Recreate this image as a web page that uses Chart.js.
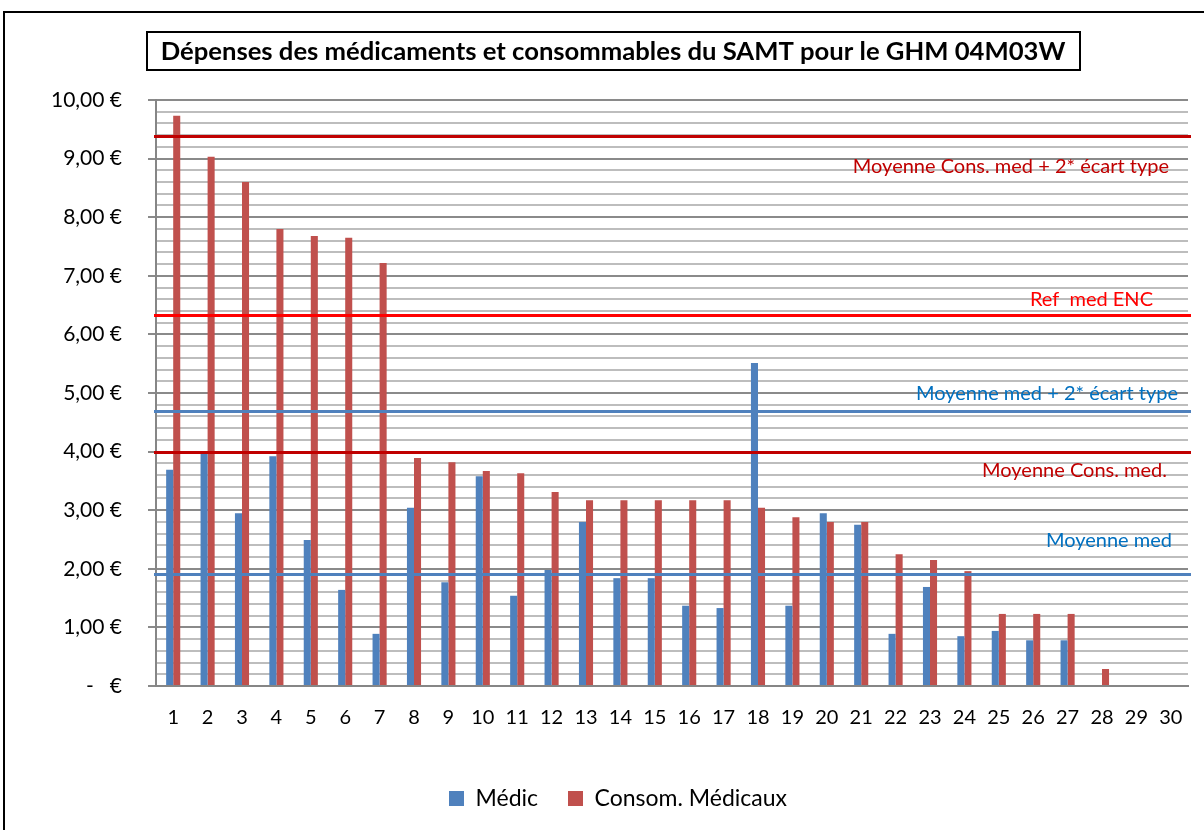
<!DOCTYPE html>
<html>
<head>
<meta charset="utf-8">
<script src="https://cdn.jsdelivr.net/npm/chart.js@4/dist/chart.umd.min.js"></script>
<style>
  body { margin: 0; background: #fff; }
  canvas { display: block; }
</style>
</head>
<body>
<canvas id="myChart" width="1204" height="830"></canvas>
<script>
// data
const categories = ['1','2','3','4','5','6','7','8','9','10','11','12','13','14','15','16','17','18','19','20','21','22','23','24','25','26','27','28','29','30'];
const medic = [3.69,3.97,2.95,3.92,2.49,1.64,0.89,3.04,1.77,3.58,1.54,1.98,2.80,1.84,1.84,1.37,1.33,5.51,1.37,2.95,2.75,0.89,1.69,0.85,0.94,0.78,0.78,0,0,0];
const consom = [9.73,9.03,8.60,7.80,7.68,7.65,7.22,3.89,3.82,3.67,3.63,3.31,3.17,3.17,3.17,3.17,3.17,3.04,2.88,2.80,2.80,2.25,2.15,1.96,1.23,1.23,1.23,0.29,0,0];
const seriesNames = ['Médic', 'Consom. Médicaux'];
const refNames = ['Moyenne Cons. med + 2* écart type', 'Ref  med ENC', 'Moyenne med + 2* écart type', 'Moyenne Cons. med.', 'Moyenne med'];
const refValues = [9.38, 6.33, 4.70, 3.99, 1.91];
const yTicks = [0,1,2,3,4,5,6,7,8,9,10];
const title = 'Dépenses des médicaments et consommables du SAMT pour le GHM 04M03W';

// styles
const refColors = ['#C00000', '#FF0000', '#4F81BD', '#C00000', '#4F81BD'];
const refTextColors = ['#C00000', '#FF0000', '#0070C0', '#C00000', '#0070C0'];
const labelShift = [30, -16, -17, 18, -34];   // px from the line
const labelRight = [1169, 1153, 1178, 1167, 1172];
const FONT = 'Lato';

function isMajor(v) { return Math.abs(v - Math.round(v)) < 1e-6 }

const decor = {
  id: 'decor',
  beforeDraw(chart) {
    const ctx = chart.ctx;
    ctx.save();
    ctx.fillStyle = '#fff';
    ctx.fillRect(0, 0, chart.width, chart.height);
    ctx.strokeStyle = '#000';
    ctx.lineWidth = 2;
    ctx.strokeRect(4, 12, 1400, 1000);
    ctx.restore();
  },
  afterDatasetsDraw(chart) {
    // horizontal reference lines, placed by the y scale
    const ctx = chart.ctx, y = chart.scales.y, a = chart.chartArea;
    ctx.save();
    ctx.lineWidth = 3;
    refValues.forEach((v, i) => {
      const py = Math.round(y.getPixelForValue(v)) + 0.5;
      ctx.strokeStyle = refColors[i];
      ctx.beginPath();
      ctx.moveTo(a.left - 2, py);
      ctx.lineTo(a.right + 3, py);
      ctx.stroke();
    });
    ctx.restore();
  },
  afterDraw(chart) {
    const ctx = chart.ctx;
    ctx.save();
    // title in a box
    ctx.font = 'bold 22px ' + FONT;
    let w = ctx.measureText(title).width;
    let size = 22 * 905 / w;
    ctx.font = 'bold ' + size.toFixed(2) + 'px ' + FONT;
    ctx.fillStyle = '#000';
    ctx.textAlign = 'center';
    ctx.textBaseline = 'middle';
    ctx.fillText(title, 613, 52);
    ctx.strokeStyle = '#000';
    ctx.lineWidth = 2;
    ctx.strokeRect(147, 32, 933, 38);
    // labels of the reference lines
    const y = chart.scales.y;
    ctx.font = '20px ' + FONT;
    ctx.textAlign = 'right';
    refNames.forEach((name, i) => {
      ctx.fillStyle = refTextColors[i];
      ctx.fillText(name, labelRight[i], y.getPixelForValue(refValues[i]) + labelShift[i]);
    });
    ctx.restore();
  }
};

new Chart(document.getElementById('myChart').getContext('2d'), {
  type: 'bar',
  data: {
    labels: categories,
    datasets: [
      { label: seriesNames[0], data: medic, backgroundColor: '#4F81BD' },
      { label: seriesNames[1], data: consom, backgroundColor: '#C0504D' }
    ]
  },
  options: {
    responsive: false,
    animation: false,
    categoryPercentage: 0.41,
    barPercentage: 1,
    layout: { padding: { top: 100, bottom: 10, left: 48, right: 16 } },
    plugins: {
      legend: {
        position: 'bottom',
        labels: {
          boxWidth: 15, boxHeight: 15,
          padding: 30,
          color: '#000',
          font: { family: FONT, size: 23 }
        }
      },
      tooltip: { enabled: false },
      title: { display: false }
    },
    scales: {
      x: {
        grid: { display: false, drawTicks: false },
        border: { display: true, color: '#868686', width: 2 },
        ticks: { padding: 20, color: '#000', font: { family: FONT, size: 20 } },
        afterFit: s => { s.height = 71 }
      },
      y: {
        min: 0, max: 10,
        afterFit: s => { s.width = 108 },
        border: { color: '#868686', width: 2 },
        grid: {
          color: c => isMajor(c.tick.value) ? '#8a8a8a' : '#bdbdbd',
          lineWidth: 2,
          tickLength: 8,
          tickColor: c => isMajor(c.tick.value) ? '#8a8a8a' : 'rgba(0,0,0,0)'
        },
        ticks: {
          stepSize: 0.2,
          autoSkip: false,
          padding: 26,
          color: '#000',
          font: { family: FONT, size: 21 },
          callback: v => {
            if (!isMajor(v)) return '';
            const n = Math.round(v);
            if (!yTicks.includes(n)) return '';
            return n === 0 ? '-   €' : n.toFixed(2).replace('.', ',') + ' €';
          }
        }
      }
    }
  },
  plugins: [decor]
});
</script>
</body>
</html>
